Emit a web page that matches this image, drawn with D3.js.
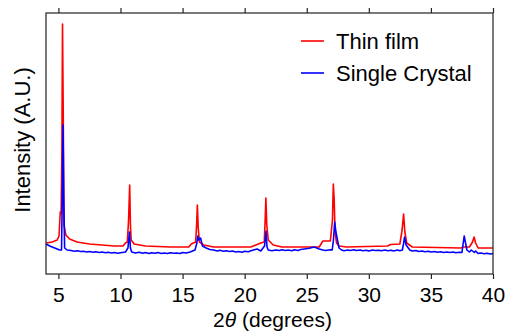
<!DOCTYPE html>
<html>
<head>
<meta charset="utf-8">
<script src="https://cdn.jsdelivr.net/npm/d3@7"></script>
<style>
    body { margin: 0; background: #fff; }
    text { font-family: "Liberation Sans", Arial, sans-serif; fill: #000; }
</style>
</head>
<body>
<div id="chart"></div>
<script>

// x axis ticks
let xTicks = [5, 10, 15, 20, 25, 30, 35, 40];

// thin film pattern: 2theta (deg)
let filmAngle = [4.0, 4.5, 4.9, 5.05, 5.15, 5.22, 5.28, 5.33, 5.38, 5.45, 5.6, 5.9, 6.5, 7.5, 8.5, 9.5, 10.2,
    10.4, 10.55, 10.65, 10.74, 10.8, 10.86, 11.1, 12.0, 14.0, 15.5, 15.7, 16.05, 16.13, 16.19, 16.26, 16.36, 16.7,
    17.5, 20.5, 20.9, 21.3, 21.58, 21.65, 21.71, 21.78, 21.9, 22.3, 23.0, 26.0, 26.3, 26.9, 27.07, 27.14, 27.21,
    27.28, 27.4, 27.6, 28.2, 31.5, 31.75, 32.5, 32.68, 32.8, 32.9, 33.05, 33.5, 37.4, 37.6, 38.1, 38.35, 38.48,
    38.6, 38.8, 40.0];
// thin film intensity (a.u.)
let filmCounts = [124, 128, 136, 152, 248, 240, 496, 1000, 696, 196, 156, 140, 128, 120, 116, 112, 112,
    124, 128, 216, 356, 196, 136, 120, 112, 108, 108, 120, 128, 196, 276, 184, 128, 116,
    108, 108, 116, 124, 128, 216, 304, 196, 136, 116, 108, 108, 132, 132, 216, 360, 296,
    168, 124, 112, 108, 112, 118, 120, 176, 240, 168, 124, 108, 104, 108, 108, 128, 148,
    124, 104, 104];

// single crystal pattern
let crystalAngle = [4.0, 4.3, 4.6, 4.9, 5.1, 5.25, 5.31, 5.37, 5.43, 5.5, 5.7, 6.0, 6.3, 6.5, 6.8, 7.0, 7.3,
    7.5, 7.8, 8.0, 8.3, 8.5, 8.8, 9.0, 9.3, 9.5, 9.8, 10.0, 10.4, 10.6, 10.72, 10.8, 10.9, 11.2, 11.5, 11.8,
    12.0, 12.3, 12.5, 12.8, 13.0, 13.3, 13.5, 13.8, 14.0, 14.3, 14.5, 14.8, 15.0, 15.3, 15.6, 16.0,
    16.15, 16.22, 16.3, 16.45, 16.6, 16.9, 17.2, 17.5, 17.8, 18.0, 18.3, 18.5, 18.8, 19.0, 19.3, 19.5, 19.8,
    20.0, 20.3, 20.5, 21.0, 21.3, 21.6, 21.72, 21.8, 21.9, 22.2, 22.5, 22.8, 23.0, 23.3, 23.5, 23.8, 24.0,
    24.3, 24.5, 24.8, 25.2, 25.6, 26.0, 26.3, 26.5, 26.9, 27.05, 27.15, 27.25, 27.35, 27.6, 27.8, 28.0, 28.3,
    28.5, 28.8, 29.0, 29.3, 29.5, 29.8, 30.0, 30.3, 30.5, 30.8, 31.0, 31.3, 31.5, 31.8, 32.0, 32.3, 32.5,
    32.7, 32.79, 32.88, 33.0, 33.3, 33.5, 33.8, 34.0, 34.3, 34.5, 34.8, 35.0, 35.3, 35.5, 35.8, 36.0, 36.3,
    36.5, 36.8, 37.0, 37.3, 37.5, 37.58, 37.68, 37.9, 38.1, 38.25, 38.5, 38.6, 38.8, 39.0, 39.3, 39.5,
    39.8, 40.0];
let crystalCounts = [120, 112, 106, 100, 96, 96, 300, 596, 300, 104, 96, 94, 91, 93, 90, 91, 88,
    90, 87, 89, 86, 88, 85, 87, 84, 86, 83, 85, 88, 104, 168, 104, 88, 84, 87, 83,
    86, 82, 85, 83, 86, 82, 84, 82, 85, 83, 84, 82, 86, 84, 88, 96,
    124, 152, 136, 144, 112, 104, 98, 96, 92, 95, 91, 93, 90, 92, 88, 90, 87,
    91, 89, 93, 100, 92, 112, 172, 108, 96, 93, 96, 94, 97, 94, 96, 93, 97, 94,
    98, 100, 103, 108, 100, 96, 94, 97, 96, 136, 208, 168, 104, 96, 93, 96, 94,
    97, 94, 96, 93, 95, 92, 96, 94, 95, 93, 96, 93, 95, 92, 96, 93, 96,
    120, 148, 116, 96, 92, 94, 90, 92, 89, 91, 88, 90, 87, 89, 86, 88, 86,
    88, 85, 87, 86, 116, 152, 96, 88, 96, 86, 92, 82, 84, 81, 83, 80,
    82, 81];

let series = [
    {name: "Thin film", color: "#ff0000", angle: filmAngle, counts: filmCounts},
    {name: "Single Crystal", color: "#0000ff", angle: crystalAngle, counts: crystalCounts}
];

let margin = {top: 13, right: 15, bottom: 61, left: 46};
let width = 508 - margin.left - margin.right,
    height = 335 - margin.top - margin.bottom;

let svg = d3.select("#chart").append("svg")
    .attr("width", 508)
    .attr("height", 335)
    .append("g")
    .attr("transform", "translate(" + margin.left + "," + margin.top + ")");

let x = d3.scaleLinear()
    .domain([4, 40])
    .range([0, width]);

let y = d3.scaleLinear()
    .domain([0, 1044])
    .range([height, 0]);

let line = d3.line()
    .x(d => x(d[0]))
    .y(d => y(d[1]));

// film is drawn first, crystal sits on top
series.forEach(function(s) {
    let pts = s.angle.map((a, i) => [a, s.counts[i]]);
    svg.append("path")
        .datum(pts)
        .attr("fill", "none")
        .attr("stroke", s.color)
        .attr("stroke-width", 1.6)
        .attr("stroke-linejoin", "round")
        .attr("d", line);
});

// frame
svg.append("rect")
    .attr("width", width)
    .attr("height", height)
    .attr("fill", "none")
    .attr("stroke", "#222")
    .attr("stroke-width", 1.2);

let xAxis = svg.append("g")
    .attr("transform", "translate(0," + height + ")")
    .call(d3.axisBottom(x).tickValues(xTicks).tickSize(5).tickPadding(8));
xAxis.select(".domain").remove();
xAxis.selectAll("line").attr("stroke", "#222").attr("stroke-width", 1.2);
xAxis.selectAll("text").style("font-size", "21px").style("font-family", "Liberation Sans, Arial, sans-serif");

let xTop = svg.append("g")
    .call(d3.axisTop(x).tickValues(xTicks).tickSize(5).tickFormat(""));
xTop.select(".domain").remove();
xTop.selectAll("line").attr("stroke", "#222").attr("stroke-width", 1.2);

// axis labels
let xLabel = svg.append("text")
    .attr("text-anchor", "middle")
    .attr("x", width / 2 + 3)
    .attr("y", height + 53)
    .style("font-size", "21px");
xLabel.append("tspan").text("2");
xLabel.append("tspan").style("font-style", "italic").text("θ");
xLabel.append("tspan").text(" (degrees)");

svg.append("text")
    .attr("text-anchor", "middle")
    .attr("transform", "rotate(-90)")
    .attr("x", -127)
    .attr("y", -16)
    .style("font-size", "22px")
    .text("Intensity (A.U.)");

// legend
let legend = svg.selectAll(".legend")
    .data(series)
    .enter().append("g")
    .attr("class", "legend")
    .attr("transform", (d, i) => "translate(255," + (28 + i * 32) + ")");
legend.append("line")
    .attr("x1", 0).attr("x2", 23)
    .attr("stroke", d => d.color)
    .attr("stroke-width", 1.6);
legend.append("text")
    .attr("x", 35)
    .attr("dy", "0.35em")
    .style("font-size", "22px")
    .text(d => d.name);

</script>
</body>
</html>
